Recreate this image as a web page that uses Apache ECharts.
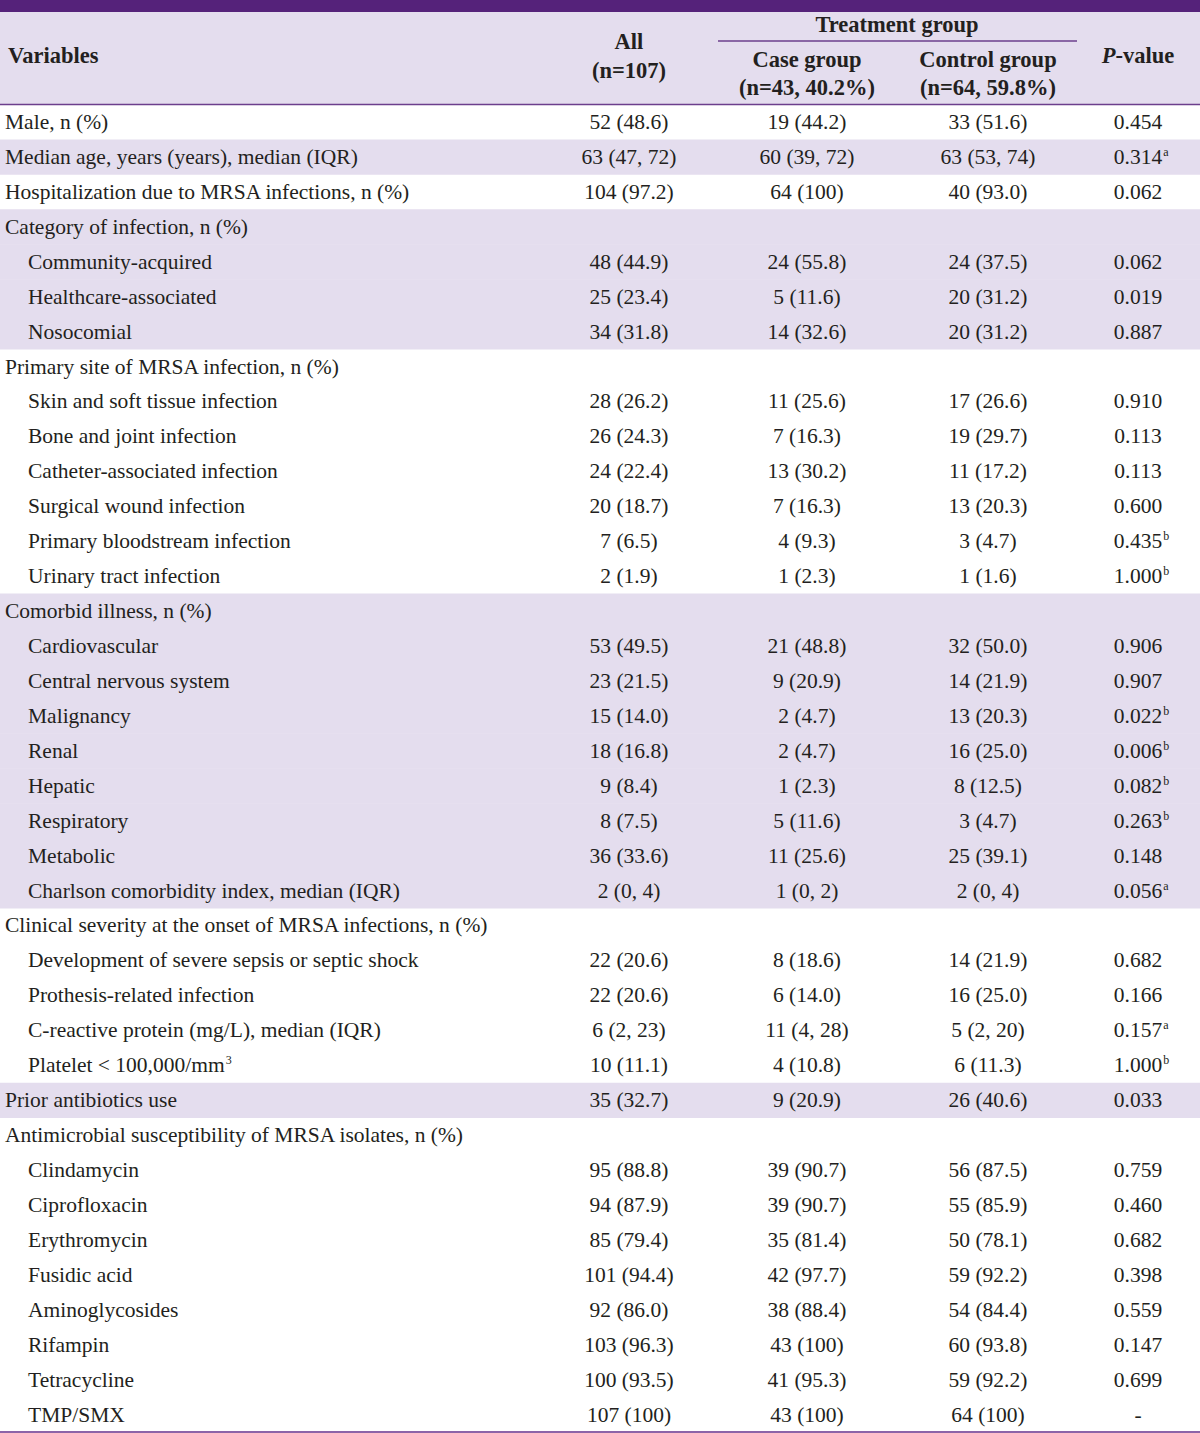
<!DOCTYPE html>
<html><head><meta charset="utf-8">
<script src="https://cdn.jsdelivr.net/npm/echarts@6/dist/echarts.min.js"></script>
<style>html,body{margin:0;padding:0;background:#fff}#c{width:1200px;height:1433px}</style>
</head><body><div id="c"></div>
<script>
// ---------- DATA ----------
const rowLabels = [
  'Male, n (%)',
  'Median age, years (years), median (IQR)',
  'Hospitalization due to MRSA infections, n (%)',
  'Category of infection, n (%)',
  'Community-acquired',
  'Healthcare-associated',
  'Nosocomial',
  'Primary site of MRSA infection, n (%)',
  'Skin and soft tissue infection',
  'Bone and joint infection',
  'Catheter-associated infection',
  'Surgical wound infection',
  'Primary bloodstream infection',
  'Urinary tract infection',
  'Comorbid illness, n (%)',
  'Cardiovascular',
  'Central nervous system',
  'Malignancy',
  'Renal',
  'Hepatic',
  'Respiratory',
  'Metabolic',
  'Charlson comorbidity index, median (IQR)',
  'Clinical severity at the onset of MRSA infections, n (%)',
  'Development of severe sepsis or septic shock',
  'Prothesis-related infection',
  'C-reactive protein (mg/L), median (IQR)',
  'Platelet < 100,000/mm',
  'Prior antibiotics use',
  'Antimicrobial susceptibility of MRSA isolates, n (%)',
  'Clindamycin',
  'Ciprofloxacin',
  'Erythromycin',
  'Fusidic acid',
  'Aminoglycosides',
  'Rifampin',
  'Tetracycline',
  'TMP/SMX'
];
const rowLabelSup = ['','','','','','','','','','','','','','','','','','','','','','','','','','','','3','','','','','','','','','',''];
const rowLevels = [0,0,0,0,1,1,1,0,1,1,1,1,1,1,0,1,1,1,1,1,1,1,1,0,1,1,1,1,0,0,1,1,1,1,1,1,1,1];
const allValues = [
  '52 (48.6)','63 (47, 72)','104 (97.2)','',
  '48 (44.9)','25 (23.4)','34 (31.8)','',
  '28 (26.2)','26 (24.3)','24 (22.4)','20 (18.7)','7 (6.5)','2 (1.9)','',
  '53 (49.5)','23 (21.5)','15 (14.0)','18 (16.8)','9 (8.4)','8 (7.5)','36 (33.6)','2 (0, 4)','',
  '22 (20.6)','22 (20.6)','6 (2, 23)','10 (11.1)','35 (32.7)','',
  '95 (88.8)','94 (87.9)','85 (79.4)','101 (94.4)','92 (86.0)','103 (96.3)','100 (93.5)','107 (100)'
];
const caseValues = [
  '19 (44.2)','60 (39, 72)','64 (100)','',
  '24 (55.8)','5 (11.6)','14 (32.6)','',
  '11 (25.6)','7 (16.3)','13 (30.2)','7 (16.3)','4 (9.3)','1 (2.3)','',
  '21 (48.8)','9 (20.9)','2 (4.7)','2 (4.7)','1 (2.3)','5 (11.6)','11 (25.6)','1 (0, 2)','',
  '8 (18.6)','6 (14.0)','11 (4, 28)','4 (10.8)','9 (20.9)','',
  '39 (90.7)','39 (90.7)','35 (81.4)','42 (97.7)','38 (88.4)','43 (100)','41 (95.3)','43 (100)'
];
const controlValues = [
  '33 (51.6)','63 (53, 74)','40 (93.0)','',
  '24 (37.5)','20 (31.2)','20 (31.2)','',
  '17 (26.6)','19 (29.7)','11 (17.2)','13 (20.3)','3 (4.7)','1 (1.6)','',
  '32 (50.0)','14 (21.9)','13 (20.3)','16 (25.0)','8 (12.5)','3 (4.7)','25 (39.1)','2 (0, 4)','',
  '14 (21.9)','16 (25.0)','5 (2, 20)','6 (11.3)','26 (40.6)','',
  '56 (87.5)','55 (85.9)','50 (78.1)','59 (92.2)','54 (84.4)','60 (93.8)','59 (92.2)','64 (100)'
];
const pValues = [
  '0.454','0.314','0.062','',
  '0.062','0.019','0.887','',
  '0.910','0.113','0.113','0.600','0.435','1.000','',
  '0.906','0.907','0.022','0.006','0.082','0.263','0.148','0.056','',
  '0.682','0.166','0.157','1.000','0.033','',
  '0.759','0.460','0.682','0.398','0.559','0.147','0.699','-'
];
const pNotes = [
  '','a','','',
  '','','','',
  '','','','','b','b','',
  '','','b','b','b','b','','a','',
  '','','a','b','','',
  '','','','','','','',''
];
const headerVariables = 'Variables';
const headerAll = ['All', '(n=107)'];
const headerGroup = 'Treatment group';
const headerCase = ['Case group', '(n=43, 40.2%)'];
const headerControl = ['Control group', '(n=64, 59.8%)'];
const headerP = ['P', '-value'];

// ---------- STYLE / LAYOUT ----------
const FONT_FAMILY = '"Liberation Serif", "DejaVu Serif", serif';
const FS = 21.5;
const FSH = 22.5;
const FONT = FS + 'px ' + FONT_FAMILY;
const FONT_B = 'bold ' + FSH + 'px ' + FONT_FAMILY;
const FONT_BI = 'italic bold ' + FSH + 'px ' + FONT_FAMILY;
const FONT_SUP = '12px ' + FONT_FAMILY;
const TXT = '#231f20';
const PURPLE = '#55227a';
const RULE = '#6c3f8d';
const RULE_B = '#8d64a8';
const SHADE = '#e4ddee';
const X = { left: 5, indent: 28, all: 629, cas: 807, ctl: 988, p: 1138 };
const HEADER_BOTTOM = 104.5;

const mctx = document.createElement('canvas').getContext('2d');
function tw(text, font) { mctx.font = font; return mctx.measureText(text).width; }

// section shading: alternate by top-level row
const shaded = [];
let sec = -1;
rowLevels.forEach((lv, i) => { if (lv === 0) sec++; shaded.push(sec % 2 === 1); });

const rowIdx = rowLabels.map((_, i) => i);

function txt(x, y, text, font, align) {
  return { type: 'text', style: { x, y, text, font, fill: TXT, align: align, verticalAlign: 'middle', textAlign: align, textVerticalAlign: 'middle' } };
}

function renderBg(params, api) {
  const i = api.value(1);
  if (!shaded[i]) return null;
  const yc = api.coord([0, i])[1];
  const h = api.size([0, 1])[1];
  const x0 = api.coord([0, i])[0];
  const x1 = api.coord([1200, i])[0];
  return { type: 'rect', shape: { x: x0, y: yc - h / 2, width: x1 - x0, height: h + 0.5 }, style: { fill: SHADE } };
}

function renderRow(params, api) {
  const i = api.value(1);
  const yc = api.coord([0, i])[1];
  const children = [];
  const lx = api.coord([rowLevels[i] ? X.indent : X.left, i])[0];
  children.push(txt(lx, yc, rowLabels[i], FONT, 'left'));
  if (rowLabelSup[i]) {
    children.push({ type: 'text', style: { x: lx + tw(rowLabels[i], FONT) + 1, y: yc - 11, text: rowLabelSup[i], font: FONT_SUP, fill: TXT, align: 'left', verticalAlign: 'top', textAlign: 'left', textVerticalAlign: 'top' } });
  }
  const cols = [[allValues, X.all], [caseValues, X.cas], [controlValues, X.ctl]];
  cols.forEach(([arr, cx]) => {
    if (arr[i]) children.push(txt(api.coord([cx, i])[0], yc, arr[i], FONT, 'center'));
  });
  if (pValues[i]) {
    const px = api.coord([X.p, i])[0];
    children.push(txt(px, yc, pValues[i], FONT, 'center'));
    if (pNotes[i]) {
      const w = tw(pValues[i], FONT);
      children.push({ type: 'text', style: { x: px + w / 2 + 1, y: yc - 11, text: pNotes[i], font: FONT_SUP, fill: TXT, align: 'left', verticalAlign: 'top', textAlign: 'left', textVerticalAlign: 'top' } });
    }
  }
  return { type: 'group', children };
}

function htxt(x, y, text, font, align) {
  return { type: 'text', x: 0, y: 0, style: { x, y, text, font, fill: TXT, align: align || 'center', verticalAlign: 'middle', textAlign: align || 'center', textVerticalAlign: 'middle' }, z: 10 };
}

const pW1 = tw(headerP[0], FONT_BI), pW2 = tw(headerP[1], FONT_B);
const pStart = X.p - (pW1 + pW2) / 2;

const chart = echarts.init(document.getElementById('c'), null, { renderer: 'svg', width: 1200, height: 1433 });
chart.setOption({
  animation: false,
  backgroundColor: '#ffffff',
  grid: { left: 0, right: 0, top: HEADER_BOTTOM, bottom: 1, containLabel: false },
  xAxis: { type: 'value', min: 0, max: 1200, show: false },
  yAxis: { type: 'category', data: rowIdx, inverse: true, show: false },
  graphic: [
    { type: 'rect', shape: { x: 0, y: 0, width: 1200, height: 12 }, style: { fill: PURPLE }, z: 5 },
    { type: 'rect', shape: { x: 0, y: 12, width: 1200, height: HEADER_BOTTOM - 12 }, style: { fill: SHADE }, z: 1 },
    { type: 'line', shape: { x1: 0, y1: HEADER_BOTTOM, x2: 1200, y2: HEADER_BOTTOM }, style: { stroke: RULE, lineWidth: 1.6 }, z: 5 },
    { type: 'line', shape: { x1: 718, y1: 41, x2: 1077, y2: 41 }, style: { stroke: RULE, lineWidth: 1.6 }, z: 5 },
    { type: 'line', shape: { x1: 0, y1: 1432, x2: 1200, y2: 1432 }, style: { stroke: RULE_B, lineWidth: 1.8 }, z: 5 },
    htxt(8, 55, headerVariables, FONT_B, 'left'),
    htxt(X.all, 41, headerAll[0], FONT_B),
    htxt(X.all, 70, headerAll[1], FONT_B),
    htxt(897, 24, headerGroup, FONT_B),
    htxt(X.cas, 59, headerCase[0], FONT_B),
    htxt(X.cas, 87, headerCase[1], FONT_B),
    htxt(X.ctl, 59, headerControl[0], FONT_B),
    htxt(X.ctl, 87, headerControl[1], FONT_B),
    htxt(pStart, 55, headerP[0], FONT_BI, 'left'),
    htxt(pStart + pW1, 55, headerP[1], FONT_B, 'left')
  ],
  series: [
    { type: 'custom', coordinateSystem: 'cartesian2d', data: rowIdx.map(i => [0, i]), encode: { x: 0, y: 1 }, renderItem: renderBg, z: 1, silent: true, clip: false },
    { type: 'custom', coordinateSystem: 'cartesian2d', data: rowIdx.map(i => [0, i]), encode: { x: 0, y: 1 }, renderItem: renderRow, z: 3, silent: true, clip: false }
  ]
});
</script>
</body></html>
